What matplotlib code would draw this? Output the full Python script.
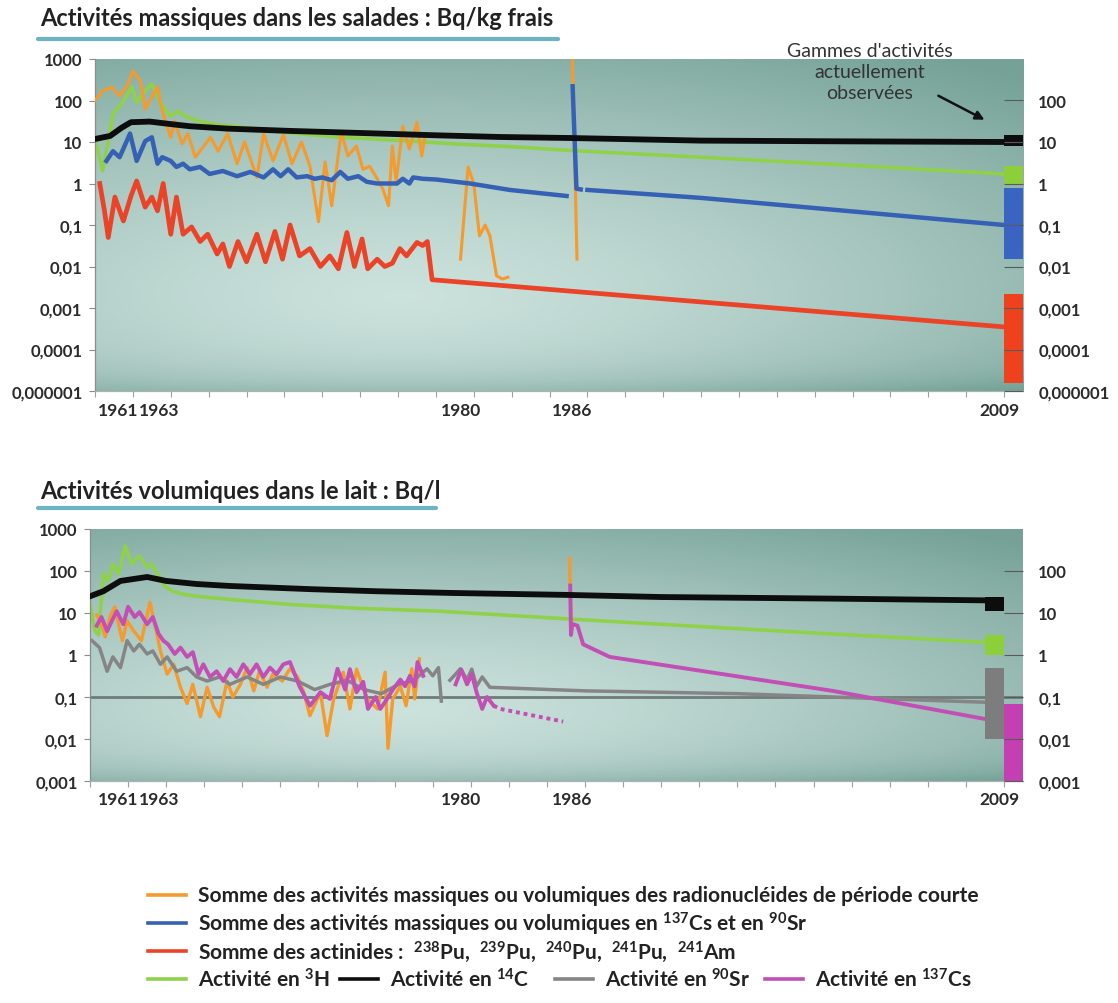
import numpy as np
import matplotlib
matplotlib.use('Agg')
import matplotlib.pyplot as plt

plt.rcParams['font.family'] = ['Lato', 'DejaVu Sans']
plt.rcParams['mathtext.fontset'] = 'custom'
plt.rcParams['mathtext.rm'] = 'Lato:bold'
plt.rcParams['mathtext.it'] = 'Lato:bold'
plt.rcParams['mathtext.bf'] = 'Lato:bold'

nan = float('nan')

# ---------------- DATA : salades (Bq/kg frais) ----------------
sal_c14_x = [1961.0, 1961.8, 1962.4, 1962.9, 1963.9, 1965.0, 1966.0, 1968.0, 1971.3, 1975.0,
             1979.0, 1982.4, 1986.0, 1993.0, 2000.0, 2009.0]
sal_c14_y = [11.8, 14.0, 22.0, 30.0, 31.0, 27.0, 24.0, 21.0, 18.5, 16.5,
             14.5, 13.2, 12.5, 10.8, 10.4, 10.0]

sal_h3_x = [1961.0, 1961.4, 1961.95, 1962.5, 1962.95, 1963.2, 1963.4, 1963.7, 1964.0, 1964.5,
            1965.0, 1965.4, 1965.85, 1966.5, 1967.5, 1969.0, 1971.0, 1974.0, 1977.0, 1980.0,
            1983.0, 1986.0, 1993.0, 2000.0, 2009.0]
sal_h3_y = [13, 2.0, 47, 97, 212, 90, 122, 180, 250, 82,
            42, 55, 40, 32, 26, 22, 17, 13, 11, 9.0,
            7.7, 6.3, 4.3, 2.9, 1.7]

sal_short_x = [1961.0, 1961.4, 1961.9, 1962.3, 1962.7, 1963.0, 1963.4, 1963.65, 1964.0, 1964.3,
               1964.55, 1965.0, 1965.2, 1965.6, 1965.9, 1966.3, 1966.7, 1967.1, 1967.5, 1968.0,
               1968.5, 1968.9, 1969.55, 1969.9, 1970.4, 1970.95, 1971.4, 1971.9, 1972.35, 1972.8,
               1973.15, 1973.5, 1974.0, 1974.35, 1974.8, 1975.15, 1975.5, 1975.9, 1976.2, 1976.5,
               1976.7, 1976.9, 1977.25, 1977.6, 1978.0, 1978.25, 1978.4,
               nan,
               1980.3, 1980.7, 1981.0, 1981.3, 1981.6, 1981.85, 1982.2, 1982.5, 1982.8,
               nan,
               1986.2, 1986.45]
sal_short_y = [100, 170, 210, 128, 225, 510, 300, 62, 122, 212,
               56, 13, 32, 9, 16, 4.3, 7.5, 13, 6, 16,
               3, 10, 1.4, 16, 3.5, 15, 3, 10, 2.6, 0.12,
               3.3, 0.29, 17.5, 4.6, 8, 2.2, 2.6, 1.3, 0.73, 0.29,
               8, 1.1, 24, 6.8, 30, 4.6, 11.8,
               nan,
               0.015, 2.5, 1.0, 0.055, 0.1, 0.055, 0.006, 0.005, 0.0055,
               nan,
               1500, 0.015]

sal_cssr_x = [1961.6, 1961.95, 1962.3, 1962.85, 1963.2, 1963.65, 1964.0, 1964.3, 1964.55, 1965.0,
              1965.3, 1965.65, 1966.0, 1966.55, 1967.05, 1967.75, 1968.5, 1969.2, 1969.9, 1970.4,
              1970.8, 1971.2, 1971.65, 1972.2, 1972.6, 1973.0, 1973.5, 1973.95, 1974.35, 1974.9,
              1975.35, 1975.9, 1976.4, 1976.95, 1977.25, 1977.6, 1977.8, 1978.3, 1979.0, 1980.8,
              1982.9, 1985.9,
              nan,
              1986.22, 1986.42, 1986.65,
              nan,
              1987.0, 1993.0, 2009.0]
sal_cssr_y = [3.5, 6, 4.3, 16, 3.5, 10.5, 13, 3.0, 4.3, 3.5,
              2.5, 3, 2.2, 2.5, 1.7, 2, 1.5, 1.9, 1.4, 2.2,
              1.5, 2.2, 1.4, 1.5, 1.3, 1.4, 1.2, 1.9, 1.3, 1.5,
              1.1, 1.0, 1.0, 1.0, 1.3, 1.0, 1.4, 1.3, 1.25, 1.0,
              0.7, 0.5,
              nan,
              220, 0.75, 0.72,
              nan,
              0.7, 0.45, 0.1]

sal_act_x = [1961.25, 1961.5, 1961.7, 1962.05, 1962.5, 1962.9, 1963.2, 1963.65, 1964.0, 1964.3,
             1964.6, 1965.0, 1965.3, 1965.65, 1966.1, 1966.55, 1966.95, 1967.45, 1967.75, 1968.1,
             1968.55, 1969.0, 1969.55, 1970.0, 1970.5, 1970.9, 1971.3, 1971.8, 1972.35, 1972.9,
             1973.4, 1973.85, 1974.3, 1974.7, 1975.1, 1975.4, 1975.9, 1976.3, 1976.7, 1977.1,
             1977.45, 1978.0, 1978.3, 1978.55, 1978.8, 1993.0, 2009.0]
sal_act_y = [1.0, 0.22, 0.05, 0.47, 0.125, 0.5, 1.15, 0.27, 0.47, 0.22,
             1.0, 0.06, 0.47, 0.06, 0.09, 0.04, 0.06, 0.02, 0.035, 0.01,
             0.04, 0.013, 0.06, 0.013, 0.07, 0.015, 0.1, 0.018, 0.027, 0.01,
             0.018, 0.0088, 0.066, 0.01, 0.046, 0.0088, 0.015, 0.01, 0.012, 0.027,
             0.018, 0.038, 0.032, 0.04, 0.0048, 0.0014, 0.00035]

# current ranges (low, high) : C14, H3, Cs+Sr, actinides
sal_range_names = ['c14', 'h3', 'cssr', 'act']
sal_range_low = [7.8, 1.0, 0.015, 0.000016]
sal_range_high = [15.0, 2.6, 0.8, 0.0022]

# ---------------- DATA : lait (Bq/l) ----------------
lait_c14_x = [1961.0, 1961.7, 1962.6, 1964.0, 1965.0, 1966.6, 1968.35, 1972.55, 1976.0, 1980.0,
              1986.0, 1991.0, 2000.0, 2008.0]
lait_c14_y = [25, 33, 58, 72, 58, 49, 44, 37, 33, 30,
              27, 24, 22, 20]

lait_h3_x = [1961.0, 1961.26, 1961.45, 1961.7, 1961.95, 1962.2, 1962.5, 1962.85, 1963.2, 1963.6,
             1964.0, 1964.25, 1964.55, 1964.9, 1965.35, 1965.9, 1966.6, 1968.35, 1971.5, 1975.0,
             1979.4, 1986.2, 1993.6, 2008.0]
lait_h3_y = [16, 3.7, 3.0, 85, 58, 147, 85, 395, 147, 228,
             125, 147, 85, 44, 33, 28, 25, 21, 16, 13,
             11, 7.2, 4.6, 2.0]

lait_short_x = [1961.35, 1961.6, 1961.8, 1962.05, 1962.3, 1962.7, 1962.95, 1963.3, 1963.7, 1964.15,
                1964.4, 1964.7, 1965.05, 1965.4, 1965.75, 1966.1, 1966.4, 1966.8, 1967.15, 1967.5,
                1967.8, 1968.2, 1968.5, 1968.9, 1969.25, 1969.6, 1969.9, 1970.3, 1970.6, 1971.1,
                1971.5, 1971.9, 1972.2, 1972.55, 1973.1, 1973.45, 1973.8, 1974.3, 1974.65, 1975.0,
                1975.55, 1976.1, 1976.5, 1976.65, 1976.9, 1977.3, 1977.6, 1977.9, 1978.05, 1978.3,
                nan,
                1986.18, 1986.28]
lait_short_y = [9, 5.4, 2.7, 8.1, 14, 2.2, 6.5, 3.7, 2.2, 18,
                5.4, 1.25, 0.35, 0.6, 0.17, 0.07, 0.2, 0.034, 0.17, 0.057,
                0.034, 0.24, 0.1, 0.2, 0.5, 0.14, 0.41, 0.17, 0.35, 0.24,
                0.47, 0.3, 0.14, 0.036, 0.13, 0.012, 0.09, 0.39, 0.052, 0.46,
                0.09, 0.052, 0.39, 0.006, 0.09, 0.18, 0.062, 0.47, 0.09, 0.8,
                nan,
                200, 3.5]

lait_sr90_x = [1961.1, 1961.5, 1961.9, 1962.2, 1962.6, 1962.95, 1963.3, 1963.6, 1964.0, 1964.3,
               1964.7, 1965.05, 1965.55, 1966.1, 1966.6, 1967.15, 1967.8, 1968.35, 1969.25, 1970.1,
               1971.0, 1971.9, 1972.8, 1973.6, 1974.5, 1975.4, 1976.3, 1977.2, 1978.0, 1978.7,
               1979.0, 1979.3, 1979.45,
               nan,
               1979.9, 1980.2, 1980.45, 1980.8, 1981.05, 1981.3, 1981.6, 1982.0, 1987.0, 1995.0,
               2000.0, 2008.0]
lait_sr90_y = [2.2, 1.5, 0.41, 0.9, 0.5, 2.2, 1.25, 1.8, 1.06, 1.25,
               0.6, 0.9, 0.41, 0.5, 0.3, 0.24, 0.3, 0.2, 0.3, 0.2,
               0.3, 0.24, 0.15, 0.2, 0.25, 0.15, 0.12, 0.2, 0.25, 0.47,
               0.32, 0.5, 0.08,
               nan,
               0.25, 0.35, 0.47, 0.26, 0.46, 0.18, 0.3, 0.17, 0.14, 0.12,
               0.1, 0.075]

lait_cs137_x = [1961.35, 1961.6, 1961.9, 1962.15, 1962.4, 1962.75, 1963.0, 1963.35, 1963.6, 1964.0,
                1964.3, 1964.6, 1964.85, 1965.1, 1965.45, 1965.75, 1966.1, 1966.4, 1966.7, 1966.95,
                1967.3, 1967.65, 1968.0, 1968.35, 1968.7, 1969.05, 1969.4, 1969.75, 1970.1, 1970.45,
                1970.8, 1971.15, 1971.5, 1972.0, 1972.55, 1973.1, 1973.6, 1974.0, 1974.4, 1974.65,
                1975.0, 1975.35, 1975.6, 1976.0, 1976.25, 1976.6, 1976.9, 1977.3, 1977.55, 1977.8,
                1978.05, 1978.2, 1978.5,
                nan,
                1980.2, 1980.5, 1980.8, 1981.05, 1981.3, 1981.6, 1981.85, 1982.2,
                nan,
                1986.22, 1986.26, 1986.33, 1986.6, 1986.9, 1987.4, 1988.3, 1993.55, 2000.0, 2008.0]
lait_cs137_y = [5, 8, 3.7, 6.5, 11, 5.4, 14, 8, 10.5, 5.4,
                8, 3.2, 2.2, 1.8, 1.06, 1.5, 0.9, 1.17, 0.35, 0.6,
                0.3, 0.41, 0.24, 0.46, 0.3, 0.6, 0.35, 0.6, 0.3, 0.5,
                0.35, 0.6, 0.68, 0.18, 0.062, 0.13, 0.09, 0.47, 0.15, 0.46,
                0.13, 0.23, 0.052, 0.1, 0.052, 0.09, 0.15, 0.26, 0.18, 0.32,
                0.18, 0.68, 0.32,
                nan,
                0.2, 0.45, 0.2, 0.35, 0.13, 0.052, 0.1, 0.062,
                nan,
                45, 3.0, 5.5, 5.0, 1.8, 1.4, 0.9, 0.39, 0.14, 0.03]

# 137Cs : dotted estimate between 1982 and 1986
lait_cs137_est_x = [1982.2, 1982.55, 1985.85]
lait_cs137_est_y = [0.062, 0.052, 0.026]

lait_ref_level = 0.1

lait_range_names = ['c14', 'h3', 'sr90', 'cs137']
lait_range_low = [11.0, 1.0, 0.01, 0.001]
lait_range_high = [24.0, 3.0, 0.5, 0.07]
lait_range_year = [2008, 2008, 2008, 2009]

# axis labels
sal_left_ticks = [1e3, 1e2, 1e1, 1, 1e-1, 1e-2, 1e-3, 1e-4, 1e-5]
sal_left_labels = ['1000', '100', '10', '1', '0,1', '0,01', '0,001', '0,0001', '0,000001']
lait_left_ticks = [1e3, 1e2, 1e1, 1, 1e-1, 1e-2, 1e-3]
lait_left_labels = ['1000', '100', '10', '1', '0,1', '0,01', '0,001']
year_labels = ['1961', '1963', '1980', '1986', '2009']

# ---------------- STYLE / LAYOUT ----------------
COL = {
    'short': '#f59a2c',
    'cssr': '#3660b4',
    'act': '#ea4327',
    'h3': '#8fd24a',
    'c14': '#0d0d0d',
    'sr90': '#858585',
    'cs137': '#c24fb3',
}
BAR = {
    'c14': '#0d0d0d', 'h3': '#8ccf3a', 'cssr': '#3a64c2', 'act': '#f0411f',
    'sr90': '#7d7d7d', 'cs137': '#c43fb2',
}
TXT = '#2b2b2b'
YEAR_LABEL_PX = [118, 159, 461, 572, 999]   # horizontal placement of the year captions

W, H = 1118, 1004
fig = plt.figure(figsize=(W / 100, H / 100), dpi=100)
fig.patch.set_facecolor('white')


def px_rect(l, t, r, b):
    return [l / W, 1 - b / H, (r - l) / W, (b - t) / H]


def make_bg(rect):
    bg = fig.add_axes(rect, zorder=0)
    bg.axis('off')
    ny, nx = 160, 320
    yy, xx = np.mgrid[0:1:ny * 1j, 0:1:nx * 1j]
    t = np.sqrt(((xx - 0.33) / 0.95) ** 2 + ((yy - 0.28) / 0.85) ** 2)
    w = np.clip(t / 1.05, 0, 1) ** 1.3
    w = np.clip(w + 0.35 * np.exp(-yy / 0.06), 0, 1)
    light = np.array([0.80, 0.885, 0.865])
    dark = np.array([0.46, 0.635, 0.595])
    img = light[None, None, :] * (1 - w[..., None]) + dark[None, None, :] * w[..., None]
    bg.imshow(img, extent=(0, 1, 0, 1), origin='lower', aspect='auto', interpolation='bilinear')
    bg.set_xlim(0, 1)
    bg.set_ylim(0, 1)


def style_axes(ax, ylim, ticks, labels, label_y_px):
    ax.set_facecolor('none')
    ax.set_yscale('log')
    ax.set_xlim(1961, 2010)
    ax.set_ylim(*ylim)
    ax.set_yticks(ticks)
    ax.set_yticklabels(labels)
    ax.yaxis.set_minor_locator(matplotlib.ticker.NullLocator())
    ax.set_xticks(np.arange(1961, 2011, 2))
    ax.set_xticklabels([])
    ax.xaxis.set_minor_locator(matplotlib.ticker.NullLocator())
    for s in ['top', 'right']:
        ax.spines[s].set_visible(False)
    ax.spines['left'].set_color('#8c8c8c')
    ax.spines['left'].set_linewidth(0.9)
    ax.spines['bottom'].set_color('#a9b3b1')
    ax.spines['bottom'].set_linewidth(0.9)
    ax.tick_params(axis='y', direction='out', length=4, width=0.8, color='#8c8c8c',
                   pad=5, labelsize=12, labelcolor=TXT)
    ax.tick_params(axis='x', direction='out', length=4, width=0.8, color='#a0a0a0')
    for lab in ax.get_yticklabels():
        lab.set_fontweight('bold')
    # right axis
    axr = ax.twinx()
    axr.set_yscale('log')
    axr.set_ylim(*ylim)
    axr.set_yticks(ticks[1:])
    axr.set_yticklabels(labels[1:])
    axr.yaxis.set_minor_locator(matplotlib.ticker.NullLocator())
    for s in axr.spines.values():
        s.set_visible(False)
    axr.tick_params(axis='y', direction='in', length=14, width=0.8, color='#5a5a5a',
                    pad=11, labelsize=12, labelcolor=TXT)
    for lab in axr.get_yticklabels():
        lab.set_fontweight('bold')
    # year captions
    for lbl, xp in zip(year_labels, YEAR_LABEL_PX):
        fig.text(xp / W, 1 - label_y_px / H, lbl, ha='center', va='center',
                 fontsize=12.5, fontweight='bold', color=TXT)
    return axr


# ---------- top panel ----------
rect1 = px_rect(95, 60, 1023, 392)
make_bg(rect1)
ax1 = fig.add_axes(rect1, zorder=1)
style_axes(ax1, (1e-5, 1e3), sal_left_ticks, sal_left_labels, 411)

ax1.plot(sal_h3_x, sal_h3_y, color=COL['h3'], lw=2.6, zorder=2, solid_joinstyle='round')
ax1.plot(sal_short_x, sal_short_y, color=COL['short'], lw=2.2, zorder=3, solid_joinstyle='round')
ax1.plot(sal_cssr_x, sal_cssr_y, color=COL['cssr'], lw=3.2, zorder=4, solid_joinstyle='round')
ax1.plot(sal_act_x, sal_act_y, color=COL['act'], lw=3.4, zorder=4, solid_joinstyle='round')
ax1.plot(sal_c14_x, sal_c14_y, color=COL['c14'], lw=4.2, zorder=5, solid_joinstyle='round')

for name, lo, hi in zip(sal_range_names, sal_range_low, sal_range_high):
    ax1.bar(2009.5, hi - lo, bottom=lo, width=1.0, color=BAR[name], zorder=6, linewidth=0)

ax1.annotate('', xy=(2008.1, 32), xytext=(2005.4, 140),
             arrowprops=dict(arrowstyle='-|>', color='#111111', lw=1.8, mutation_scale=13),
             zorder=7)
ax1.text(2001.9, 500, "Gammes d'activités\nactuellement\nobservées", ha='center', va='center',
         fontsize=14, color='#333333', linespacing=1.3, zorder=7)

# ---------- bottom panel ----------
rect2 = px_rect(90, 530, 1023, 782)
make_bg(rect2)
ax2 = fig.add_axes(rect2, zorder=1)
style_axes(ax2, (1e-3, 1e3), lait_left_ticks, lait_left_labels, 800)

ax2.axhline(lait_ref_level, color='#6f7c79', lw=2.0, zorder=1.5)
ax2.plot(lait_h3_x, lait_h3_y, color=COL['h3'], lw=2.6, zorder=2, solid_joinstyle='round')
ax2.plot(lait_short_x, lait_short_y, color=COL['short'], lw=2.4, zorder=3, solid_joinstyle='round')
ax2.plot(lait_sr90_x, lait_sr90_y, color=COL['sr90'], lw=2.5, zorder=3.5, solid_joinstyle='round')
ax2.plot(lait_cs137_x, lait_cs137_y, color=COL['cs137'], lw=2.8, zorder=4, solid_joinstyle='round')
ax2.plot(lait_cs137_est_x, lait_cs137_est_y, color=COL['cs137'], lw=2.8, ls=(0, (1, 1)), zorder=4)
ax2.plot(lait_c14_x, lait_c14_y, color=COL['c14'], lw=4.2, zorder=5, solid_joinstyle='round')

for name, lo, hi, yr in zip(lait_range_names, lait_range_low, lait_range_high, lait_range_year):
    ax2.bar(yr + 0.5, hi - lo, bottom=lo, width=1.0, color=BAR[name], zorder=6, linewidth=0)

# ---------- titles ----------
def title(text, x, y, x_end, y_line):
    fig.text(x / W, 1 - y / H, text, ha='left', va='center', fontsize=17, fontweight='bold',
             color='#222222')
    fig.add_artist(plt.Line2D([38 / W, x_end / W], [1 - y_line / H, 1 - y_line / H],
                              color='#6db4c3', lw=3, solid_capstyle='round'))

title('Activités massiques dans les salades : Bq/kg frais', 40, 19, 558, 40)
title('Activités volumiques dans le lait : Bq/l', 40, 492, 436, 509)

# ---------- legend ----------
def leg_item(x_line, y, color, text):
    yf = 1 - y / H
    fig.add_artist(plt.Line2D([x_line / W, (x_line + 38) / W], [yf, yf], color=color, lw=2.6))
    fig.text((x_line + 50) / W, yf, text, ha='left', va='center', fontsize=15,
             fontweight='bold', color='#222222')

leg_item(148, 896, COL['short'],
         'Somme des activités massiques ou volumiques des radionucléides de période courte')
leg_item(148, 924, COL['cssr'],
         r'Somme des activités massiques ou volumiques en $^{137}$Cs et en $^{90}$Sr')
leg_item(148, 952, COL['act'],
         r'Somme des actinides :  $^{238}$Pu,  $^{239}$Pu,  $^{240}$Pu,  $^{241}$Pu,  $^{241}$Am')
leg_item(148, 980, COL['h3'], r'Activité en $^{3}$H')
leg_item(340, 980, COL['c14'], r'Activité en $^{14}$C')
leg_item(555, 980, COL['sr90'], r'Activité en $^{90}$Sr')
leg_item(765, 980, COL['cs137'], r'Activité en $^{137}$Cs')

fig.savefig('out.png', dpi=100)
